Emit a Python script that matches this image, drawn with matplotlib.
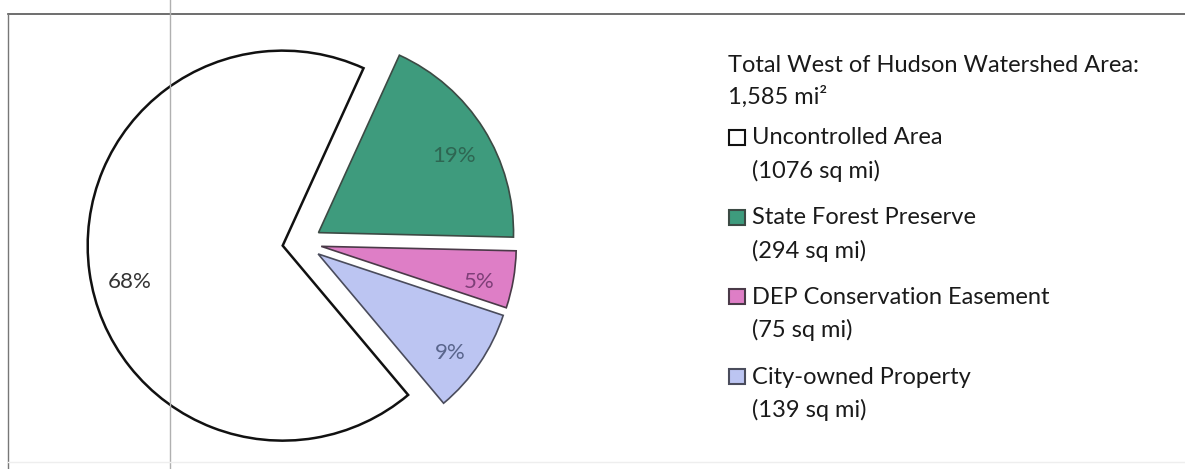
import matplotlib.pyplot as plt
from matplotlib.patches import Rectangle
from matplotlib.lines import Line2D

# ==================== 数据 ====================
categories = ['Uncontrolled Area', 'State Forest Preserve',
              'DEP Conservation Easement', 'City-owned Property']
areas_sq_mi = [1076, 294, 75, 139]
total_label = '1,585 mi\u00b2'

# pie order (clockwise from top): forest, DEP, city, uncontrolled
pie_order = [1, 2, 3, 0]

colors = ['#FFFFFF', '#3E9B7D', '#DE7EC6', '#BCC5F2']
edge_colors = ['#111111', '#3c4a44', '#4a3a48', '#4a4c5c']
pct_colors = ['#333333', '#2E6652', '#7E3F78', '#59658C']

W, H = 1185, 469
FONT = 'Lato'


def px(x, y):
    """pixel (from top-left) -> figure fraction"""
    return x / W, 1 - y / H


def main():
    fig = plt.figure(figsize=(W / 100, H / 100), dpi=100)
    fig.patch.set_facecolor('white')

    # axes covers whole figure, 1 data unit = 195 px, pie centre at (302, 243)
    ax = fig.add_axes([0, 0, 1, 1])
    r_px, cx, cy = 195.0, 302.0, 243.0

    vals = [areas_sq_mi[i] for i in pie_order]
    cols = [colors[i] for i in pie_order]
    wedges, texts, autotexts = ax.pie(
        vals, colors=cols, startangle=65.5, counterclock=False,
        explode=[0.1] * len(vals), autopct='%.0f%%', pctdistance=0.82,
        wedgeprops=dict(linewidth=1.2),
        textprops=dict(fontsize=16, family=FONT))
    for w, t, i in zip(wedges, autotexts, pie_order):
        w.set_edgecolor(edge_colors[i])
        if i == 0:
            w.set_linewidth(1.8)
        t.set_color(pct_colors[i])
        # labels sit a bit lower in the original
        x, y = t.get_position()
        dy = -0.075 if i == 0 else -0.045
        dx = 0.03 if i == 0 else 0.0
        t.set_position((x + dx, y + dy))

    ax.set_xlim(-cx / r_px, (W - cx) / r_px)
    ax.set_ylim((cy - H) / r_px, cy / r_px)
    ax.set_aspect('auto')
    ax.axis('off')

    # ==================== 边框 / 网格线 ====================
    fig.add_artist(Line2D([8 / W, 1], [1 - 14 / H, 1 - 14 / H],
                          transform=fig.transFigure, color='#555555', lw=1.2))
    fig.add_artist(Line2D([8 / W, 8 / W], [0, 1 - 14 / H],
                          transform=fig.transFigure, color='#777777', lw=1.0))
    fig.add_artist(Line2D([170 / W, 170 / W], [0, 1],
                          transform=fig.transFigure, color='#b0b0b0', lw=1.0))
    fig.add_artist(Line2D([8 / W, 1], [1 - 462 / H, 1 - 462 / H],
                          transform=fig.transFigure, color='#eeeeee', lw=1.0))

    # ==================== 图例 ====================
    fs = 17
    fig.text(*px(728, 65), 'Total West of Hudson Watershed Area:',
             fontsize=fs, family=FONT, color='#1a1a1a', va='center')
    fig.text(*px(728, 97), total_label,
             fontsize=fs, family=FONT, color='#1a1a1a', va='center')

    row_y = [138, 218, 297, 377]
    for i, (cat, a) in enumerate(zip(categories, areas_sq_mi)):
        y = row_y[i]
        x0, y0 = px(729, y + 7)
        fig.add_artist(Rectangle((x0, y0), 16 / W, 15 / H,
                                 transform=fig.transFigure,
                                 facecolor=colors[i], edgecolor=edge_colors[i],
                                 lw=1.5))
        fig.text(*px(752, y), cat, fontsize=fs, family=FONT,
                 color='#1a1a1a', va='center')
        fig.text(*px(752, y + 33), f'({a} sq mi)', fontsize=fs, family=FONT,
                 color='#1a1a1a', va='center')

    fig.savefig('out.png', dpi=100)


if __name__ == '__main__':
    main()
